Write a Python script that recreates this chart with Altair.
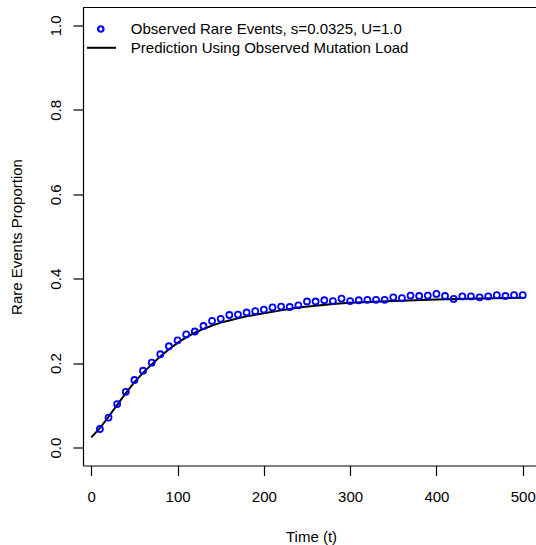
import altair as alt
import pandas as pd

# ---- data ----
obs_t = list(range(10, 501, 10))
obs_prop = [0.044, 0.071, 0.103, 0.132, 0.160, 0.182, 0.201, 0.221, 0.240, 0.254,
            0.268, 0.275, 0.288, 0.300, 0.305, 0.314, 0.315, 0.320, 0.323, 0.327,
            0.332, 0.334, 0.333, 0.337, 0.346, 0.346, 0.349, 0.347, 0.353, 0.347,
            0.349, 0.350, 0.350, 0.350, 0.356, 0.354, 0.360, 0.359, 0.360, 0.364,
            0.359, 0.352, 0.358, 0.358, 0.356, 0.358, 0.361, 0.359, 0.361, 0.361]

pred_t = [0, 10, 20, 30, 40, 50, 60, 70, 80, 90, 100, 110, 120, 130, 140, 150,
          160, 170, 180, 200, 220, 240, 260, 280, 300, 350, 400, 450, 500]
pred_prop = [0.024, 0.046, 0.073, 0.101, 0.129, 0.155, 0.177, 0.197, 0.216, 0.233,
             0.248, 0.261, 0.272, 0.281, 0.289, 0.296, 0.301, 0.306, 0.311, 0.318,
             0.325, 0.332, 0.336, 0.340, 0.343, 0.347, 0.351, 0.353, 0.355]

x_ticks = [0, 100, 200, 300, 400, 500]
y_ticks = [0.0, 0.2, 0.4, 0.6, 0.8, 1.0]
legend_labels = ["Observed Rare Events, s=0.0325, U=1.0",
                 "Prediction Using Observed Mutation Load"]
x_title = "Time (t)"
y_title = "Rare Events Proportion"

FONT = "Liberation Sans"
W, H = 453, 458
BLUE = "#0000FF"

obs_df = pd.DataFrame({"t": obs_t, "p": obs_prop})
pred_df = pd.DataFrame({"t": pred_t, "p": pred_prop})

xs = alt.Scale(domain=[-9.6, 515.4], nice=False, zero=False)
ys = alt.Scale(domain=[-0.0425, 1.0425], nice=False, zero=False)

x_axis = alt.Axis(values=x_ticks, title=x_title, grid=False, tickSize=10,
                  labelPadding=14, domainColor="black", tickColor="black",
                  labelColor="black", titleColor="black",
                  labelFont=FONT, labelFontSize=15, titleFont=FONT,
                  titleFontSize=15, titleFontWeight="normal",
                  titleX=228, titleY=75.5, titleBaseline="alphabetic",
                  titleAlign="center", domainWidth=1.2, tickWidth=1.2,
                  labelFlush=False, labelOverlap=False)

y_axis = alt.Axis(values=y_ticks, format=".1f", title=y_title, grid=False,
                  tickSize=10, labelPadding=13, labelAngle=270,
                  labelAlign="center", labelBaseline="alphabetic",
                  domainColor="black", tickColor="black", labelColor="black",
                  titleColor="black", labelFont=FONT, labelFontSize=15,
                  titleFont=FONT, titleFontSize=15, titleFontWeight="normal",
                  titleAngle=270, titleX=-62, titleY=H / 2,
                  titleBaseline="alphabetic", titleAlign="center",
                  domainWidth=1.2, tickWidth=1.2, labelFlush=False,
                  labelOverlap=False)

line = alt.Chart(pred_df).mark_line(color="black", strokeWidth=2).encode(
    x=alt.X("t:Q", scale=xs, axis=x_axis),
    y=alt.Y("p:Q", scale=ys, axis=y_axis),
)

points = alt.Chart(obs_df).mark_point(
    shape="circle", filled=False, color=BLUE, size=36, strokeWidth=1.8,
    opacity=1
).encode(
    x=alt.X("t:Q", scale=xs),
    y=alt.Y("p:Q", scale=ys),
)

one = pd.DataFrame({"a": [0]})

top_border = alt.Chart(one).mark_rule(color="black", strokeWidth=1.2).encode(
    x=alt.value(0), x2=alt.value(W), y=alt.value(0)
)

leg_pt = alt.Chart(one).mark_point(
    shape="circle", filled=False, color=BLUE, size=30, strokeWidth=2.2,
    opacity=1
).encode(x=alt.value(17.8), y=alt.value(21.5))

leg_line = alt.Chart(one).mark_rule(color="black", strokeWidth=2).encode(
    x=alt.value(4), x2=alt.value(33), y=alt.value(40.3)
)

leg_txt1 = alt.Chart(one).mark_text(
    text=legend_labels[0], font=FONT, fontSize=15, align="left",
    baseline="middle", color="black"
).encode(x=alt.value(47.8), y=alt.value(21.5))

leg_txt2 = alt.Chart(one).mark_text(
    text=legend_labels[1], font=FONT, fontSize=15, align="left",
    baseline="middle", color="black"
).encode(x=alt.value(47.8), y=alt.value(40.3))

chart = alt.layer(
    line, points, top_border, leg_pt, leg_line, leg_txt1, leg_txt2
).properties(
    width=W, height=H,
    padding={"left": 83, "top": 7.5, "right": 0, "bottom": 79.5},
    autosize=alt.AutoSizeParams(type="none"),
    background="white",
).configure_view(stroke=None)

chart.save("out.html", embed_options={"renderer": "svg", "actions": False})
